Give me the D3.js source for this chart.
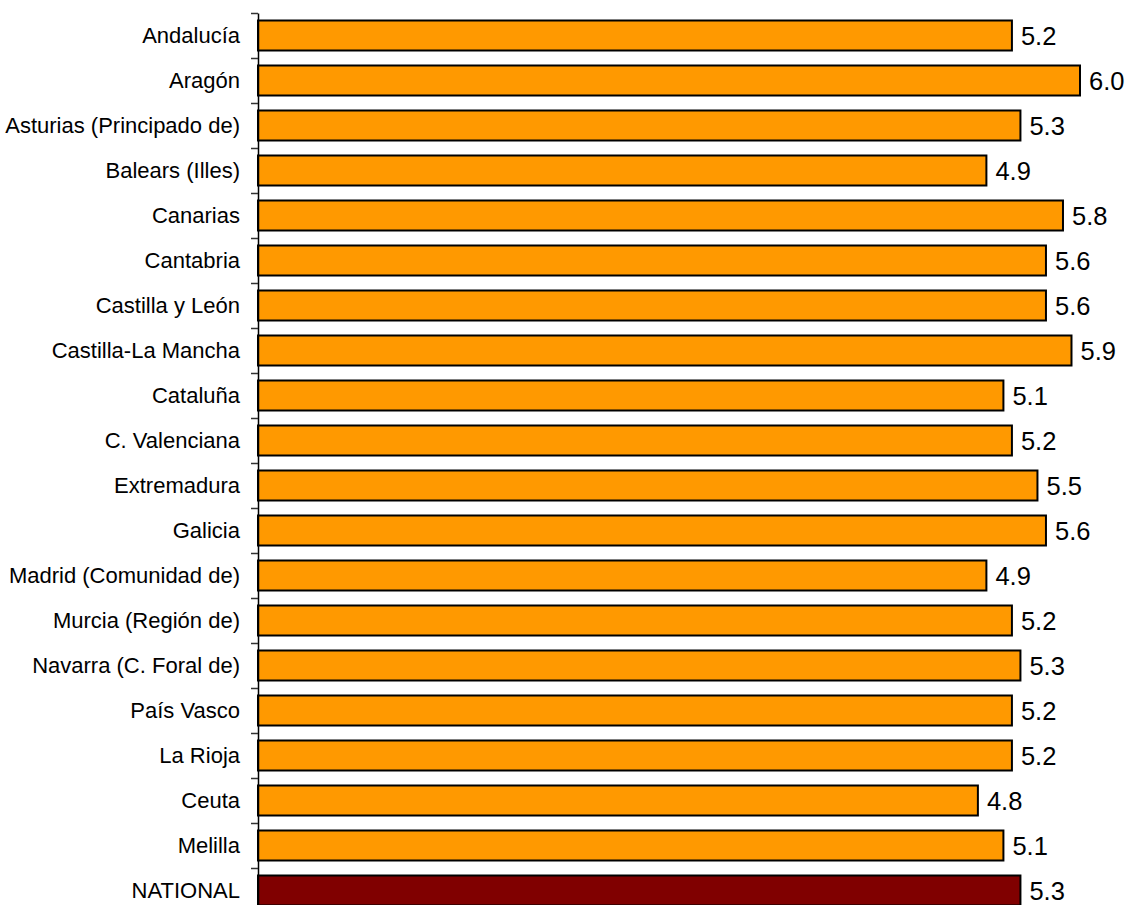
<!DOCTYPE html>
<html>
<head>
<meta charset="utf-8">
<script src="https://cdn.jsdelivr.net/npm/d3@7"></script>
<style>
  html, body { margin: 0; padding: 0; background: #fff; }
  svg { display: block; }
  text { font-family: "Liberation Sans", Arial, sans-serif; fill: #000; }
</style>
</head>
<body>
<svg id="chart" width="1127" height="905"></svg>
<script>
const categories = [
  "Andalucía", "Aragón", "Asturias (Principado de)", "Balears (Illes)", "Canarias",
  "Cantabria", "Castilla y León", "Castilla-La Mancha", "Cataluña", "C. Valenciana",
  "Extremadura", "Galicia", "Madrid (Comunidad de)", "Murcia (Región de)",
  "Navarra (C. Foral de)", "País Vasco", "La Rioja", "Ceuta", "Melilla", "NATIONAL"
];
const values = [5.2, 6.0, 5.3, 4.9, 5.8, 5.6, 5.6, 5.9, 5.1, 5.2, 5.5, 5.6, 4.9, 5.2, 5.3, 5.2, 5.2, 4.8, 5.1, 5.3];
const highlight = ["NATIONAL"];

const svg = d3.select("#chart");

const axisX = 258;
const y = d3.scaleBand()
  .domain(categories)
  .range([13, 913])
  .paddingInner(1/3)
  .paddingOuter(1/6);

const x = d3.scaleLinear()
  .domain([-3.66, 6.0])
  .range([axisX, 1080]);

const data = categories.map((c, i) => ({ cat: c, val: values[i] }));

// bars
svg.append("g").selectAll("rect")
  .data(data)
  .join("rect")
  .attr("x", x(x.domain()[0]))
  .attr("y", d => y(d.cat))
  .attr("width", d => x(d.val) - x(x.domain()[0]))
  .attr("height", y.bandwidth())
  .attr("fill", d => highlight.includes(d.cat) ? "#800000" : "#FF9900")
  .attr("stroke", "#000")
  .attr("stroke-width", 2);

// value labels
svg.append("g").selectAll("text")
  .data(data)
  .join("text")
  .attr("x", d => x(d.val) + 9)
  .attr("y", d => y(d.cat) + y.bandwidth() / 2)
  .attr("dy", "0.36em")
  .style("font-size", "25.5px")
  .text(d => d3.format(".1f")(d.val));

// category labels
const catAxis = svg.append("g")
  .attr("transform", `translate(${axisX},0)`)
  .call(d3.axisLeft(y).tickSize(0).tickPadding(18));
catAxis.select(".domain").remove();
catAxis.selectAll("text")
  .attr("dy", "0.36em")
  .style("font-size", "22px")
  .style("font-family", '"Liberation Sans", Arial, sans-serif')
  .attr("fill", "#000");

// tick marks at band boundaries
const boundary = d3.scaleLinear().domain([0, categories.length]).range([13, 913]);
const tickAxis = svg.append("g")
  .attr("transform", `translate(${axisX},0)`)
  .call(d3.axisLeft(boundary)
    .tickValues(d3.range(0, categories.length))
    .tickSize(7)
    .tickSizeOuter(0)
    .tickFormat(""));
tickAxis.select(".domain").attr("stroke", "#000").attr("stroke-width", 1.5);
tickAxis.selectAll(".tick line").attr("stroke", "#333").attr("stroke-width", 1.5);
</script>
</body>
</html>
